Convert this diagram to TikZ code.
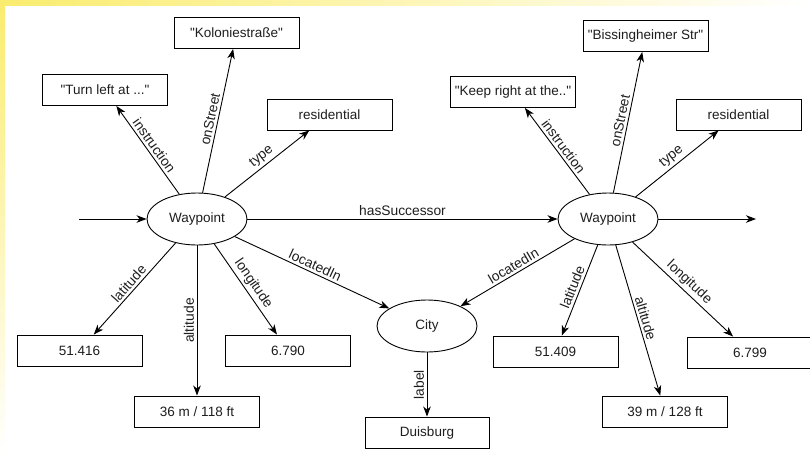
\documentclass[tikz,border=0pt]{standalone}
\usepackage{fontspec}
\setmainfont{Liberation Sans}
% plain family without TeX ligatures, so " stays a straight quote
\newfontfamily\diagfont{Liberation Sans}
\usetikzlibrary{arrows.meta,shapes.geometric}
\definecolor{edgeyellow}{RGB}{250,236,110}
\definecolor{inkgray}{RGB}{30,30,30}
\begin{document}
\begin{tikzpicture}[x=1pt,y=-1pt,
  every node/.style={text=inkgray},
  entity/.style={ellipse, draw, line width=0.9pt, minimum width=100, minimum height=52, inner sep=0pt,
    font=\diagfont\fontsize{13.5}{16}\selectfont},
  literal/.style={rectangle, draw, line width=0.9pt, minimum width=125, minimum height=31, inner sep=0pt,
    font=\diagfont\fontsize{13.5}{16}\selectfont},
  rel/.style={-{Stealth[length=10pt,width=7.5pt,inset=3pt]}, line width=0.9pt},
  lab/.style={font=\diagfont\fontsize{13.8}{16}\selectfont, inner sep=2.5pt}]

% page area and the faded yellow frame on the top and left edges
\useasboundingbox (0,0) rectangle (810,456);
\clip (0,0) rectangle (810,456);
\fill[white] (0,0) rectangle (810,456);
\fill[left color=edgeyellow, right color=white] (0,0) rectangle (810,5);
\fill[top color=edgeyellow, bottom color=white] (0,0) rectangle (5,456);

% resources
\node[entity] (w1) at (197,219) {Waypoint};
\node[entity] (w2) at (608,219) {Waypoint};
\node[entity] (city) at (427,326) {City};

% literals of the first waypoint
\node[literal] (instr1) at (105,90) {"Turn left at ..."};
\node[literal] (street1) at (236.5,33) {"Koloniestraße"};
\node[literal] (type1) at (329.5,114.5) {residential};
\node[literal] (lat1) at (79.5,350.5) {51.416};
\node[literal] (alt1) at (197,411.5) {36 m / 118 ft};
\node[literal] (lon1) at (288,350.5) {6.790};

% literals of the second waypoint
\node[literal] (instr2) at (513,92) {"Keep right at the.."};
\node[literal] (street2) at (645.5,36) {"Bissingheimer Str"};
\node[literal] (type2) at (738.5,114.5) {residential};
\node[literal] (lat2) at (555.5,351.5) {51.409};
\node[literal] (alt2) at (665,411.5) {39 m / 128 ft};
\node[literal] (lon2) at (750,352.5) {6.799};

% city label
\node[literal, minimum width=124] (duis) at (427,432.5) {Duisburg};

% open ends of the waypoint chain
\coordinate (chainin) at (79,219);
\coordinate (chainout) at (756,219);

% chain
\draw[rel] (chainin) -- (w1);
\draw[rel] (w1) -- node[lab, above]{hasSuccessor} (w2);
\draw[rel] (w2) -- (chainout);

% properties of the first waypoint
\draw[rel] (w1) -- node[lab, sloped, above]{instruction} (instr1);
\draw[rel] (w1) -- node[lab, sloped, above]{onStreet} (street1);
\draw[rel] (w1) -- node[lab, sloped, above]{type} (type1);
\draw[rel] (w1) -- node[lab, sloped, above]{latitude} (lat1);
\draw[rel] (w1) -- node[lab, rotate=90, anchor=south]{altitude} (alt1);
\draw[rel] (w1) -- node[lab, sloped, above]{longitude} (lon1);
\draw[rel] (w1) -- node[lab, sloped, above]{locatedIn} (city);

% properties of the second waypoint
\draw[rel] (w2) -- node[lab, sloped, above]{instruction} (instr2);
\draw[rel] (w2) -- node[lab, sloped, above]{onStreet} (street2);
\draw[rel] (w2) -- node[lab, sloped, above]{type} (type2);
\draw[rel] (w2) -- node[lab, sloped, above]{latitude} (lat2);
\draw[rel] (w2) -- node[lab, sloped, above]{altitude} (alt2);
\draw[rel] (w2) -- node[lab, sloped, above]{longitude} (lon2);
\draw[rel] (w2) -- node[lab, sloped, above]{locatedIn} (city);

% city label
\draw[rel] (city) -- node[lab, rotate=90, anchor=south]{label} (duis);
\end{tikzpicture}
\end{document}
